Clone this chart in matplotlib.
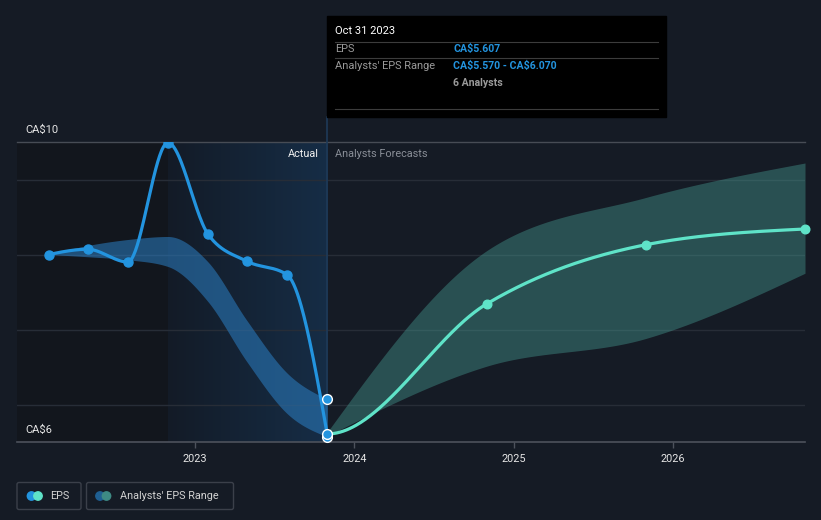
import numpy as np
import pandas as pd
import matplotlib
matplotlib.use("Agg")
import matplotlib.pyplot as plt
from matplotlib.patches import FancyBboxPatch, Rectangle, Circle
from matplotlib.colors import LinearSegmentedColormap

# ---------------- data ----------------
actual_dates = ['2022-01-31', '2022-04-30', '2022-07-31', '2022-10-31',
                '2023-01-31', '2023-04-30', '2023-07-31', '2023-10-31']
actual_eps = [8.00, 8.07, 7.90, 9.49, 8.27, 7.91, 7.73, 5.607]
actual_range_low = [8.00, 7.97, 7.93, 7.84, 7.37, 6.57, 5.88, 5.57]
actual_range_high = [8.00, 8.12, 8.20, 8.24, 7.90, 7.12, 6.42, 6.07]

forecast_dates = ['2023-10-31', '2024-10-31', '2025-10-31', '2026-10-31']
forecast_eps = [5.607, 7.34, 8.13, 8.34]
forecast_low = [5.58, 6.51, 6.88, 7.75]
forecast_high = [5.63, 8.05, 8.76, 9.22]

year_ticks = [2023, 2024, 2025, 2026]
y_labels = ['CA$10', 'CA$6']


def dec_year(d):
    t = pd.Timestamp(d)
    n = 366 if t.is_leap_year else 365
    return t.year + (t.dayofyear - 1) / n


def monotone(x, y, n=300, m_start=None):
    x = np.asarray(x, float)
    y = np.asarray(y, float)
    h = np.diff(x)
    s = np.diff(y) / h
    m = np.zeros_like(y)
    for i in range(1, len(y) - 1):
        if s[i - 1] * s[i] <= 0:
            m[i] = 0
        else:
            p = (s[i - 1] * h[i] + s[i] * h[i - 1]) / (h[i - 1] + h[i])
            m[i] = np.sign(s[i]) * min(abs(s[i - 1]), abs(s[i]), 0.5 * abs(p)) * 2
    m[0] = (3 * s[0] - m[1]) / 2 if len(y) > 2 else s[0]
    m[-1] = (3 * s[-1] - m[-2]) / 2 if len(y) > 2 else s[-1]
    if m_start is not None:
        m[0] = m_start
    xs = np.linspace(x[0], x[-1], n)
    ys = np.empty_like(xs)
    for k, xv in enumerate(xs):
        i = min(np.searchsorted(x, xv, side='right') - 1, len(x) - 2)
        t = (xv - x[i]) / h[i]
        h00 = 2 * t**3 - 3 * t**2 + 1
        h10 = t**3 - 2 * t**2 + t
        h01 = -2 * t**3 + 3 * t**2
        h11 = t**3 - t**2
        ys[k] = h00 * y[i] + h10 * h[i] * m[i] + h01 * y[i + 1] + h11 * h[i] * m[i + 1]
    return xs, ys


ax_x = [dec_year(d) for d in actual_dates]
fc_x = [dec_year(d) for d in forecast_dates]

BG = '#151b25'
BLUE = '#2394df'
TEAL = '#5fe3c8'

fig = plt.figure(figsize=(8.21, 5.2), dpi=100, facecolor=BG)
plt.rcParams['font.family'] = ['Roboto', 'DejaVu Sans']

W, H = 821, 520
L, R, T, B = 17, 805, 142, 442
ax = fig.add_axes([L / W, (H - B) / H, (R - L) / W, (B - T) / H])
ax.set_facecolor(BG)
x0 = 2023 - (195 - L) / 159.3
x1 = fc_x[-1]
ax.set_xlim(x0, x1)
ax.set_ylim(5.5, 9.5)

# darker past region
ax.add_patch(Rectangle((x0, 5.5), ax_x[3] - x0, 4.0, color='#12161d', zorder=0, lw=0))
# actual highlight gradient
grad = np.linspace(0, 1, 256).reshape(1, -1)
cmap = LinearSegmentedColormap.from_list('g', ['#131b27', '#162d46'])
ax.imshow(grad, extent=[ax_x[3], ax_x[-1], 5.5, 9.5], aspect='auto', cmap=cmap, zorder=0.5)

# grid
for v in [6, 7, 8, 9]:
    ax.axhline(v, color='#272d37', lw=1, zorder=1)
ax.axhline(9.5, color='#474c55', lw=1, zorder=1, clip_on=False)
ax.axhline(5.5, color='#4d525c', lw=1.2, zorder=1, clip_on=False)

# vertical line at last actual
ax.axvline(ax_x[-1], ymin=0, ymax=(B - 117) / (B - T), color='#1e3a58', lw=1.2,
           clip_on=False, zorder=1.5)

# bands
bx, blo = monotone(ax_x, actual_range_low)
_, bhi = monotone(ax_x, actual_range_high)
ax.fill_between(bx, blo, bhi, color='#2b7fc4', alpha=0.55, lw=0, zorder=2)
fx, flo = monotone(fc_x, forecast_low)
_, fhi = monotone(fc_x, forecast_high)
ax.fill_between(fx, flo, fhi, color='#4aa89c', alpha=0.38, lw=0, zorder=2)

# EPS lines
ex, ey = monotone(ax_x, actual_eps)
ax.plot(ex, ey, color=BLUE, lw=2.3, zorder=4, solid_capstyle='round')
ax.plot(ax_x[:-1], actual_eps[:-1], 'o', color=BLUE, ms=6.5, zorder=5)
gx, gy = monotone(fc_x, forecast_eps, m_start=0.0)
ax.plot(gx, gy, color=TEAL, lw=2.3, zorder=4, solid_capstyle='round')
ax.plot(fc_x[1:], forecast_eps[1:], 'o', color=TEAL, ms=6.2, zorder=5, clip_on=False)

# end markers
for v in [actual_range_high[-1], actual_range_low[-1], actual_eps[-1]]:
    ax.plot([ax_x[-1]], [v], 'o', color=BLUE, mec='white', mew=1, ms=7, zorder=6, clip_on=False)

# ticks
ax.set_xticks(year_ticks)
ax.set_xticklabels([str(y) for y in year_ticks], color='#e6e6e6', fontsize=7.8)
ax.tick_params(axis='x', length=4, color='#4d525c', width=1, pad=5)
ax.set_yticks([])
for sp in ax.spines.values():
    sp.set_visible(False)

# overlay axes in pixel coordinates
ov = fig.add_axes([0, 0, 1, 1], facecolor='none', zorder=10)
ov.set_xlim(0, W)
ov.set_ylim(H, 0)
ov.axis('off')

ov.text(25, 130, y_labels[0].replace('$', r'\$'), color='#e6e6e6', fontsize=8, va='center', ha='left')
ov.text(25, 430, y_labels[1].replace('$', r'\$'), color='#e6e6e6', fontsize=8, va='center', ha='left')
ov.text(319, 154, 'Actual', color='#f0f0f0', fontsize=7.8, va='center', ha='right')
ov.text(335, 154, 'Analysts Forecasts', color='#8a8f98', fontsize=7.8, va='center', ha='left')

# tooltip
ov.add_patch(Rectangle((327, 16), 339, 101, color='#000000', zorder=1))
ov.text(335, 31, 'Oct 31 2023', color='#ffffff', fontsize=8, va='center', ha='left', zorder=2)
for yy in [41.5, 58, 109]:
    ov.plot([335, 658], [yy, yy], color='#3c3c3c', lw=0.8, zorder=2)
ov.text(335, 49, 'EPS', color='#9a9a9a', fontsize=7.9, va='center', ha='left', zorder=2)
ov.text(453, 49, r'CA\$5.607', color=BLUE, fontsize=7.6, va='center', ha='left', zorder=2, fontweight='bold')
ov.text(335, 66, "Analysts' EPS Range", color='#9a9a9a', fontsize=7.9, va='center', ha='left', zorder=2)
ov.text(453, 66, r'CA\$5.570 - CA\$6.070', color=BLUE, fontsize=7.6, va='center', ha='left', zorder=2, fontweight='bold')
ov.text(453, 83, '6 Analysts', color='#9a9a9a', fontsize=7.6, va='center', ha='left', zorder=2, fontweight='bold')


# legend
def legbox(x, y, w, h):
    ov.add_patch(FancyBboxPatch((x, y), w, h, boxstyle='round,pad=0,rounding_size=2',
                                fc='none', ec='#3b404a', lw=1))


legbox(17, 482.5, 64, 27)
ov.add_patch(Circle((31.5, 496), 4.2, color=BLUE, zorder=3))
ov.add_patch(Circle((38, 496), 4.2, color=TEAL, zorder=4))
ov.text(50, 496, 'EPS', color='#d2d2d2', fontsize=7.8, va='center', ha='left')
legbox(86.5, 482.5, 147, 27)
ov.add_patch(Circle((100, 496), 4.2, color='#1f5f92', zorder=3))
ov.add_patch(Circle((106.5, 496), 4.2, color='#3e8a84', zorder=4))
ov.text(120, 496, "Analysts' EPS Range", color='#d2d2d2', fontsize=7.8, va='center', ha='left')

fig.savefig('out.png', dpi=100, facecolor=BG)
